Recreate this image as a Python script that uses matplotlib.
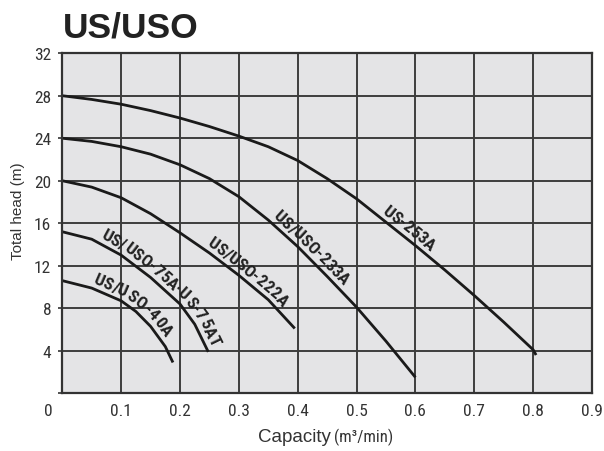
import numpy as np
import matplotlib
matplotlib.use("Agg")
import matplotlib.pyplot as plt
from matplotlib.font_manager import FontProperties, fontManager

# capacity (m3/min) / total head (m)
x_253 = [0, 0.05, 0.1, 0.15, 0.2, 0.25, 0.3, 0.35, 0.4, 0.45, 0.5, 0.55, 0.6, 0.65, 0.7, 0.75, 0.8, 0.805]
h_253 = [28, 27.65, 27.2, 26.6, 25.9, 25.1, 24.2, 23.2, 21.9, 20.2, 18.3, 16.1, 13.9, 11.6, 9.2, 6.7, 4.1, 3.6]

x_233 = [0, 0.05, 0.1, 0.15, 0.2, 0.25, 0.3, 0.35, 0.4, 0.45, 0.5, 0.55, 0.6]
h_233 = [24, 23.7, 23.2, 22.5, 21.5, 20.2, 18.5, 16.3, 13.8, 11.0, 8.1, 4.9, 1.5]

x_222 = [0, 0.05, 0.1, 0.15, 0.2, 0.25, 0.3, 0.35, 0.395]
h_222 = [20, 19.4, 18.4, 16.9, 15.1, 13.2, 11.1, 8.8, 6.1]

x_75 = [0, 0.05, 0.1, 0.15, 0.2, 0.225, 0.248]
h_75 = [15.2, 14.5, 13.0, 10.9, 8.4, 6.5, 3.9]

x_40 = [0, 0.05, 0.1, 0.125, 0.15, 0.175, 0.188]
h_40 = [10.6, 9.9, 8.7, 7.7, 6.3, 4.4, 2.9]

x_ticks = [0, 0.1, 0.2, 0.3, 0.4, 0.5, 0.6, 0.7, 0.8, 0.9]
y_ticks = [0, 4, 8, 12, 16, 20, 24, 28, 32]

# look for a narrow face, the original uses a condensed grotesque
names = {(f.name, f.stretch) for f in fontManager.ttflist}
fams = {n for n, s in names}
if 'Liberation Sans Narrow' in fams:
    narrow, stretch, lab_size = ['Liberation Sans Narrow'], 'normal', 13
elif 'Roboto Condensed' in fams:
    narrow, stretch, lab_size = ['Roboto Condensed'], 'normal', 12.5
elif ('DejaVu Sans', 'condensed') in names or ('DejaVu Sans', 'semi-condensed') in names:
    narrow, stretch, lab_size = ['DejaVu Sans'], 'condensed', 11
else:
    narrow, stretch, lab_size = ['Liberation Sans'], 'normal', 11
plain = ['Liberation Sans', 'DejaVu Sans']
grey = '#333333'

fig = plt.figure(figsize=(6.04, 4.52), dpi=100)
ax = fig.add_axes([62.3 / 604, 1 - 394.3 / 452, (592 - 62.3) / 604, (394.3 - 54.2) / 452])
ax.set_facecolor('#e4e4e6')
ax.set_xlim(0, 0.9)
ax.set_ylim(0, 32)

ax.set_xticks(x_ticks)
ax.set_xticklabels([''] + [str(v) for v in x_ticks[1:]])
ax.set_yticks(y_ticks)
ax.set_yticklabels([''] + [str(v) for v in y_ticks[1:]])
for lab in ax.get_xticklabels() + ax.get_yticklabels():
    lab.set_family(narrow)
    lab.set_stretch(stretch)
    lab.set_fontsize(12.5)
    lab.set_color(grey)
ax.tick_params(axis='x', length=0, pad=7)
ax.tick_params(axis='y', length=3, width=1.2, color=grey, pad=5)
ax.annotate('0', xy=(0, 0), xycoords=('data', 'axes fraction'), xytext=(-10, -7),
            textcoords='offset points', ha='center', va='top', family=narrow,
            stretch=stretch, fontsize=12.5, color=grey)

ax.grid(True, color='#3d3d3d', linewidth=1.4)
ax.set_axisbelow(True)
for s in ax.spines.values():
    s.set_linewidth(1.6)
    s.set_color(grey)

curves = [
    (x_253, h_253, 'US-253A', 0.578),
    (x_233, h_233, 'US/USO-233A', 0.412),
    (x_222, h_222, 'US/USO-222A', 0.305),
    (x_75, h_75, 'US/USO-75A\u00b7US-75AT', 0.168),
    (x_40, h_40, 'US/USO-40A', 0.115),
]

for xs, hs, name, xc in curves:
    ax.plot(xs, hs, color='#1a1a1a', linewidth=2.0, solid_capstyle='butt')

# labels written along each curve, one character at a time
renderer = fig.canvas.get_renderer()
fp = FontProperties(family=narrow, weight='bold', size=lab_size, stretch=stretch)


def text_w(s):
    if not s:
        return 0.0
    return renderer.get_text_width_height_descent(s, fp, ismath=False)[0]


def curve_label(xs, hs, text, xc, off=5.5):
    pts = ax.transData.transform(np.column_stack([xs, hs]))
    seg = np.hypot(np.diff(pts[:, 0]), np.diff(pts[:, 1]))
    cum = np.concatenate([[0], np.cumsum(seg)])
    # prefix widths keep the spacing of the whole word
    pref = [text_w(text[:k]) for k in range(len(text) + 1)]
    mid = np.interp(ax.transData.transform((xc, 0))[0], pts[:, 0], cum)
    start = mid - pref[-1] / 2
    for k, c in enumerate(text):
        d = start + (pref[k] + pref[k + 1]) / 2
        px = np.interp(d, cum, pts[:, 0])
        py = np.interp(d, cum, pts[:, 1])
        i = int(np.clip(np.searchsorted(cum, d), 1, len(cum) - 1))
        dx, dy = pts[i] - pts[i - 1]
        n = np.hypot(dx, dy)
        px += -dy / n * off
        py += dx / n * off
        ang = np.degrees(np.arctan2(dy, dx))
        dxy = ax.transData.inverted().transform((px, py))
        ax.text(dxy[0], dxy[1], c, fontproperties=fp, color='#222222',
                rotation=ang, rotation_mode='anchor', ha='center', va='baseline')


for xs, hs, name, xc in curves:
    curve_label(xs, hs, name, xc)

fig.text(63 / 604, 1 - 38 / 452, 'US/USO', family=plain, weight='bold',
         fontsize=25.5, color='#222222', ha='left', va='baseline')
fig.text(18 / 604, 1 - 211 / 452, 'Total head (m)', family=plain, fontsize=11,
         color=grey, rotation=90, ha='center', va='center')
fig.text(331 / 604, 1 - 442 / 452, 'Capacity', family=plain, fontsize=13.5,
         color=grey, ha='right', va='baseline')
fig.text(334 / 604, 1 - 442 / 452, '(m\u00b3/min)', family=narrow, stretch=stretch,
         fontsize=12, color=grey, ha='left', va='baseline')

fig.savefig('out.png', dpi=100)
